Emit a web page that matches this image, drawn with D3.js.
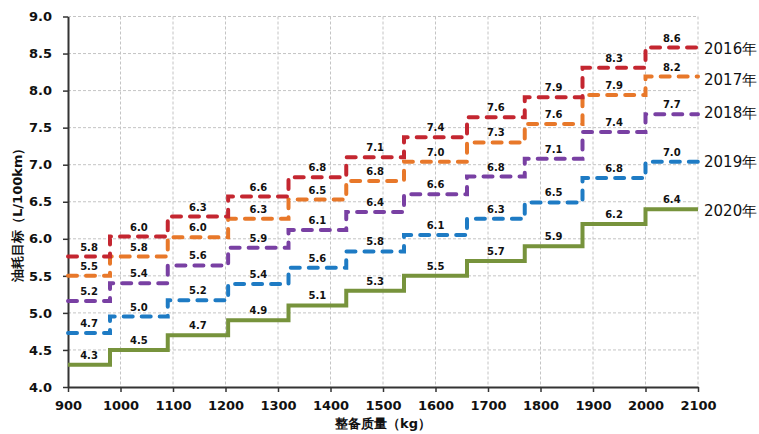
<!DOCTYPE html>
<html><head><meta charset="utf-8">
<script src="https://cdn.jsdelivr.net/npm/d3@7"></script>
<style>
body{margin:0;background:#fff;}
svg{display:block;}
</style></head><body>
<svg id="c" width="759" height="434"></svg>
<script>
// Mass brackets (kg): step starts, and the axis end
const breaks = [900, 980, 1090, 1205, 1320, 1430, 1540, 1660, 1770, 1880, 2000];
const xEnd = 2100;
const years = ["2016年", "2017年", "2018年", "2019年", "2020年"];
const v2016 = [5.76, 6.03, 6.30, 6.57, 6.83, 7.10, 7.37, 7.64, 7.91, 8.31, 8.58];
const v2017 = [5.50, 5.76, 6.02, 6.27, 6.53, 6.78, 7.04, 7.30, 7.55, 7.94, 8.19];
const v2018 = [5.16, 5.40, 5.64, 5.88, 6.12, 6.36, 6.60, 6.84, 7.08, 7.44, 7.68];
const v2019 = [4.73, 4.95, 5.17, 5.39, 5.61, 5.83, 6.05, 6.27, 6.49, 6.82, 7.04];
const v2020 = [4.30, 4.50, 4.70, 4.90, 5.10, 5.30, 5.50, 5.70, 5.90, 6.20, 6.40];
const l2016 = ["5.8","6.0","6.3","6.6","6.8","7.1","7.4","7.6","7.9","8.3","8.6"];
const l2017 = ["5.5","5.8","6.0","6.3","6.5","6.8","7.0","7.3","7.6","7.9","8.2"];
const l2018 = ["5.2","5.4","5.6","5.9","6.1","6.4","6.6","6.8","7.1","7.4","7.7"];
const l2019 = ["4.7","5.0","5.2","5.4","5.6","5.8","6.1","6.3","6.5","6.8","7.0"];
const l2020 = ["4.3","4.5","4.7","4.9","5.1","5.3","5.5","5.7","5.9","6.2","6.4"];
const xTicks = [900,1000,1100,1200,1300,1400,1500,1600,1700,1800,1900,2000,2100];
const yTicks = [4.0,4.5,5.0,5.5,6.0,6.5,7.0,7.5,8.0,8.5,9.0];
const xTitle = "整备质量（kg）";
const yTitle = "油耗目标（L/100km）";

const colors = ["#c42630", "#e8782a", "#7940a3", "#1e7bc4", "#77933c"];
const values = [v2016, v2017, v2018, v2019, v2020];
const labels = [l2016, l2017, l2018, l2019, l2020];

const svg = d3.select("#c");
const L = 68, R = 698, T = 16.5, B = 387;
const x = d3.scaleLinear().domain([900, 2100]).range([L, R]);
const y = d3.scaleLinear().domain([4, 9]).range([B, T]);

const font = "'DejaVu Sans', Verdana, sans-serif";

// grid
const g = svg.append("g");
g.selectAll(".vg").data(xTicks.slice(1)).join("line")
  .attr("x1", d => x(d)).attr("x2", d => x(d)).attr("y1", T).attr("y2", B)
  .attr("stroke", "#c4c4c4").attr("stroke-width", 1).attr("stroke-dasharray", "3,2");
g.selectAll(".hg").data(yTicks.slice(1)).join("line")
  .attr("x1", L).attr("x2", R).attr("y1", d => y(d)).attr("y2", d => y(d))
  .attr("stroke", "#c4c4c4").attr("stroke-width", 1).attr("stroke-dasharray", "3,2");

// axes
const xAxis = svg.append("g").attr("transform", `translate(0,${B})`)
  .call(d3.axisBottom(x).tickValues(xTicks).tickSize(5).tickSizeOuter(0).tickFormat(d3.format("d")));
const yAxis = svg.append("g").attr("transform", `translate(${L},0)`)
  .call(d3.axisLeft(y).tickValues(yTicks).tickSize(5).tickSizeOuter(0).tickFormat(d3.format(".1f")));
[xAxis, yAxis].forEach(a => {
  a.select(".domain").attr("stroke", "#333").attr("stroke-width", 2);
  a.selectAll(".tick line").attr("stroke", "#333").attr("stroke-width", 1.5);
  a.selectAll("text").attr("font-family", font).attr("font-weight", "bold")
    .attr("font-size", 13).attr("fill", "#111");
});
xAxis.selectAll("text").attr("dy", "1.15em");
yAxis.selectAll("text").attr("x", -16);

// series
const line = d3.line().curve(d3.curveStepAfter).x(d => x(d[0])).y(d => y(d[1]));
const order = [4, 3, 2, 1, 0];
order.forEach(i => {
  const pts = breaks.map((b, k) => [b, values[i][k]]);
  pts.push([xEnd, values[i][values[i].length - 1]]);
  svg.append("path").datum(pts).attr("d", line)
    .attr("fill", "none").attr("stroke", colors[i])
    .attr("stroke-width", i === 4 ? 4 : 4)
    .attr("stroke-linecap", i === 4 ? "butt" : "round")
    .attr("stroke-linejoin", "miter")
    .attr("stroke-dasharray", i === 4 ? null : "9,9");
});

// value labels
order.forEach(i => {
  svg.append("g").selectAll("text").data(breaks).join("text")
    .attr("x", (b, k) => x((b + (k + 1 < breaks.length ? breaks[k + 1] : xEnd)) / 2))
    .attr("y", (b, k) => y(values[i][k]) - 6)
    .attr("text-anchor", "middle")
    .attr("font-family", font).attr("font-weight", "bold").attr("font-size", 10)
    .attr("fill", "#111")
    .text((b, k) => labels[i][k]);
});

// series names at line ends
const nameDy = [2, 4, -1, 1, 2];
years.forEach((name, i) => {
  svg.append("text").attr("x", R + 6)
    .attr("y", y(values[i][values[i].length - 1]) + nameDy[i])
    .attr("dominant-baseline", "middle")
    .attr("font-family", font).attr("font-size", 15).attr("fill", "#111")
    .text(name);
});

// titles
svg.append("text").attr("x", (L + R) / 2).attr("y", 428)
  .attr("text-anchor", "middle").attr("font-family", font).attr("font-weight", "bold")
  .attr("font-size", 13).attr("fill", "#111").text(xTitle);
svg.append("text").attr("transform", `translate(22,${(T + B) / 2 + 10}) rotate(-90)`)
  .attr("text-anchor", "middle").attr("font-family", font).attr("font-weight", "bold")
  .attr("font-size", 13).attr("fill", "#111").text(yTitle);
</script>
</body></html>
